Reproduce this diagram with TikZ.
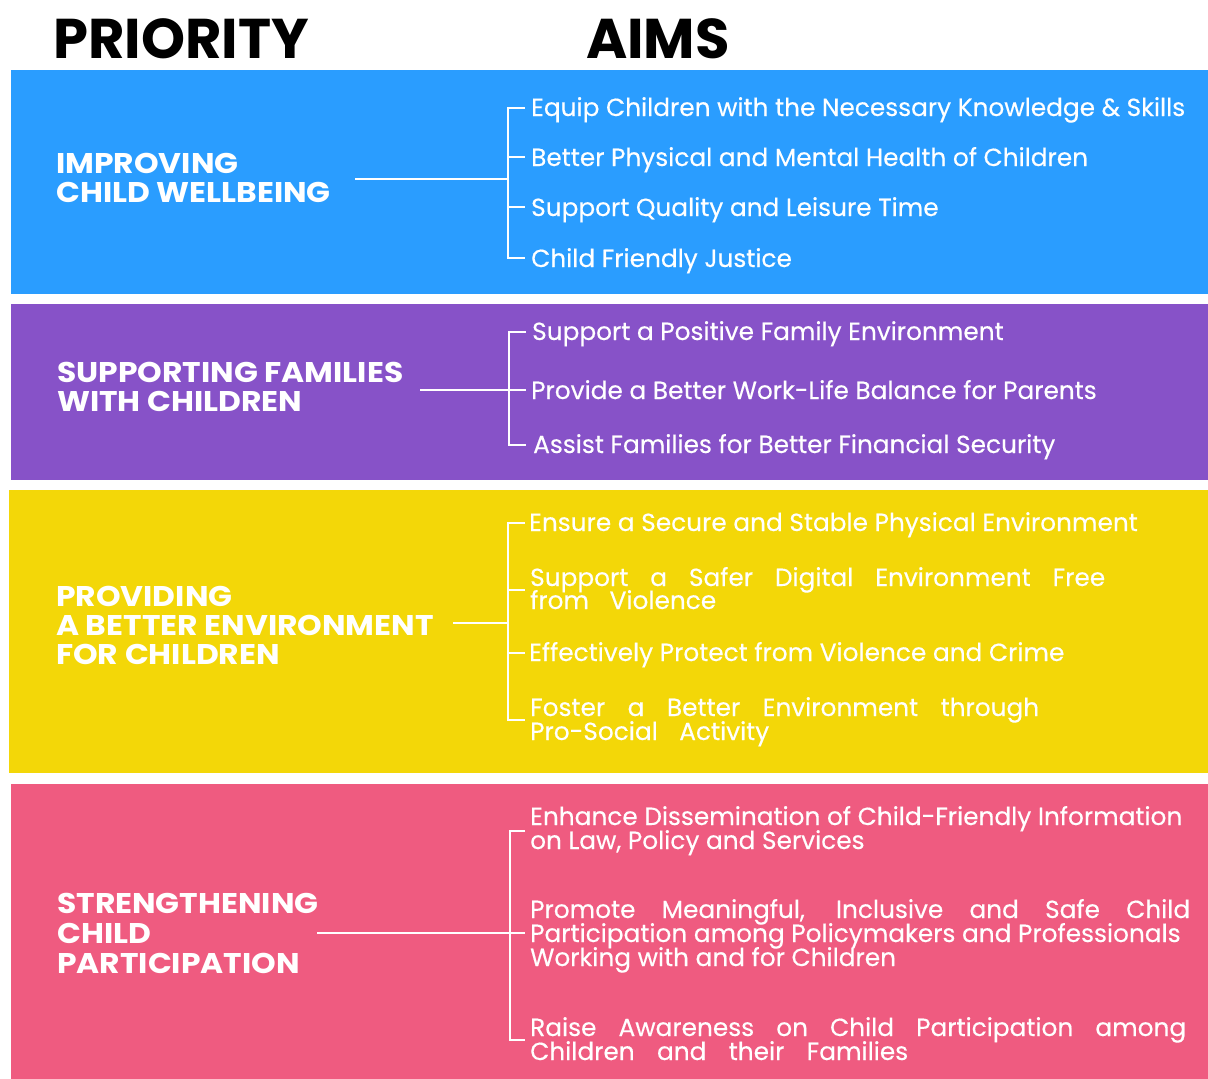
\documentclass[tikz,border=0pt]{standalone}
\usepackage{fontspec}
\setmainfont{Poppins}
\newfontfamily\priofont[FakeStretch=1.1]{Poppins}
\newfontfamily\aimfont[FakeBold=0.3]{Poppins}
\definecolor{cblue}{HTML}{2A9DFF}
\definecolor{cpurple}{HTML}{8752C8}
\definecolor{cyellow}{HTML}{F3D708}
\definecolor{cpink}{HTML}{EF5B80}
\tikzset{
  title/.style={anchor=base west, inner sep=0, text=black, font=\bfseries\fontsize{56}{56}\selectfont},
  prio/.style={anchor=base west, inner sep=0, text=white, font=\priofont\bfseries\fontsize{28.5}{29}\selectfont},
  aim/.style={anchor=base west, inner sep=0, text=white, font=\aimfont\fontsize{24.8}{24}\selectfont},
  link/.style={draw=white, line width=2.4pt},
}
\newcommand{\jline}[2]{\makebox[#1pt][s]{#2}}
\begin{document}
\begin{tikzpicture}[x=1pt,y=-1pt]
\useasboundingbox (0,0) rectangle (1208,1079);
\fill[white] (0,0) rectangle (1208,1079);
% bands
\fill[cblue] (11,70) rectangle (1208,294);
\fill[cpurple] (11,304) rectangle (1208,480);
\fill[cyellow] (9,490) rectangle (1208,773);
\fill[cpink] (11,784) rectangle (1208,1079);
% titles
\node[title] (tprio) at (53,58) {PRIORITY};
\node[title] (taims) at (586,58) {AIMS};

% ---------- band 1
\node[prio] (p1a) at (56,173) {IMPROVING};
\node[prio] (p1b) at (56,202) {CHILD WELLBEING};
\node[aim] (a11) at (531,116) {Equip Children with the Necessary Knowledge \& Skills};
\node[aim] (a12) at (531,166) {Better Physical and Mental Health of Children};
\node[aim] (a13) at (531,216) {Support Quality and Leisure Time};
\node[aim] (a14) at (531,267) {Child Friendly Justice};
\coordinate (s1) at (355,179);
\coordinate (b1) at (508,179);
\draw[link] (s1) -- (b1);
\draw[link] (525,108) -| (508,258) -- (525,258);
\draw[link] (508,157) -- (525,157);
\draw[link] (508,207) -- (525,207);

% ---------- band 2
\node[prio] (p2a) at (57,382) {SUPPORTING FAMILIES};
\node[prio] (p2b) at (57,411) {WITH CHILDREN};
\node[aim] (a21) at (532,340) {Support a Positive Family Environment};
\node[aim] (a22) at (531,399) {Provide a Better Work-Life Balance for Parents};
\node[aim] (a23) at (533,453) {Assist Families for Better Financial Security};
\coordinate (s2) at (420,390);
\coordinate (b2) at (509,390);
\draw[link] (s2) -- (b2) -- (526,390);
\draw[link] (526,332) -| (509,445) -- (526,445);

% ---------- band 3
\node[prio] (p3a) at (56,606) {PROVIDING};
\node[prio] (p3b) at (56,635) {A BETTER ENVIRONMENT};
\node[prio] (p3c) at (56,664) {FOR CHILDREN};
\node[aim] (a31) at (529,531) {Ensure a Secure and Stable Physical Environment};
\node[aim] (a32a) at (530,586) {\jline{575}{Support a Safer Digital Environment Free}};
\node[aim] (a32b) at (530,609) {\jline{186}{from Violence}};
\node[aim] (a33) at (529,661) {Effectively Protect from Violence and Crime};
\node[aim] (a34a) at (530,716) {\jline{509}{Foster a Better Environment through}};
\node[aim] (a34b) at (530,740) {\jline{239}{Pro-Social Activity}};
\coordinate (s3) at (453,623);
\coordinate (b3) at (508,623);
\draw[link] (s3) -- (b3);
\draw[link] (525,523) -| (508,720) -- (525,720);
\draw[link] (508,590) -- (525,590);
\draw[link] (508,653) -- (525,653);

% ---------- band 4
\node[prio] (p4a) at (57,913) {STRENGTHENING};
\node[prio] (p4b) at (57,943) {CHILD};
\node[prio] (p4c) at (57,973) {PARTICIPATION};
\node[aim] (a41a) at (530,825) {Enhance Dissemination of Child-Friendly Information};
\node[aim] (a41b) at (530,849) {on Law, Policy and Services};
\node[aim] (a42a) at (530,918) {\jline{660}{Promote Meaningful, Inclusive and Safe Child}};
\node[aim] (a42b) at (530,942) {Participation among Policymakers and Professionals};
\node[aim] (a42c) at (530,966) {Working with and for Children};
\node[aim] (a43a) at (530,1036) {\jline{656}{Raise Awareness on Child Participation among}};
\node[aim] (a43b) at (530,1060) {\jline{378}{Children and their Families}};
\coordinate (s4) at (317,933);
\coordinate (b4) at (510,933);
\draw[link] (s4) -- (b4) -- (525,933);
\draw[link] (525,831) -| (510,1040) -- (525,1040);
\end{tikzpicture}
\end{document}
